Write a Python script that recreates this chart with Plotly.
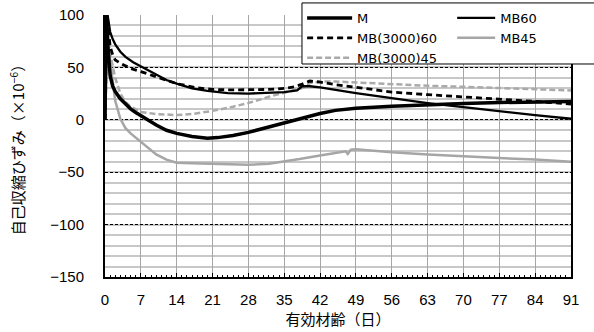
import plotly.graph_objects as go

# Autogenous shrinkage strain (x10^-6) versus effective age (days)
m_days = [0, 0.25, 0.5, 1, 1.5, 2, 3, 4, 5, 6, 7, 8, 10, 12, 14, 17, 20, 22, 25, 28,
          31, 35, 38, 42, 45, 49, 56, 63, 70, 77, 84, 91]
m_vals = [0, 110, 75, 42, 32, 27, 20, 15, 10.5, 7, 4, 1, -5, -10, -13, -16, -17.5, -17, -15, -12,
          -8, -3, 1, 6, 9, 11, 13, 14.5, 15.5, 16.5, 17, 17.5]

mb60_days = [0, 0.25, 0.5, 1, 1.5, 2, 3, 4, 5.5, 7, 8.8, 10, 12, 14, 17, 20, 24, 28, 32, 35,
             37.5, 38.5, 40, 42, 49, 56, 63, 70, 77, 84, 91]
mb60_vals = [0, 115, 100, 84, 77, 72, 65, 60, 55, 51, 47, 43, 38, 34.5, 30, 27.5, 25.5, 25, 25.5, 26.5,
             28, 32, 32, 31, 25.5, 20.5, 16, 12, 8, 4.5, 1]

mb3000_60_days = [0, 0.3, 0.6, 1, 1.5, 2, 3, 5, 7, 10, 14, 18, 21, 25, 28, 32, 35, 37, 38.5, 40,
                  42, 45, 49, 56, 63, 70, 77, 84, 91]
mb3000_60_vals = [0, 110, 90, 70, 62, 57, 54, 49, 46, 41, 34.5, 30.5, 29, 28.5, 28.5, 29, 30, 31.5, 34, 37,
                  36, 33.5, 31, 26.5, 24, 22, 20, 17.5, 15]

mb45_days = [0, 0.3, 0.6, 1, 1.5, 2, 3, 4, 5, 7, 10, 12, 14, 17, 21, 25, 28, 32, 35, 38,
             42, 45, 47, 47.4, 48, 49, 52, 56, 63, 70, 77, 84, 91]
mb45_vals = [0, 55, 72, 55, 35, 18, 1, -8, -13, -21, -33, -38, -41, -41.5, -42, -42.5, -43, -42, -40, -37.5,
             -34, -31.5, -30, -32.5, -28.5, -28, -29.5, -31, -33, -35, -36.5, -38, -40]

mb3000_45_days = [0, 0.3, 0.6, 1, 1.5, 2, 3, 4, 5, 7, 10, 14, 17, 21, 25, 28, 32, 35, 37.5, 39,
                  40, 42, 45, 49, 56, 63, 70, 77, 84, 91]
mb3000_45_vals = [0, 50, 80, 63, 50, 40, 25, 17, 12.5, 7.5, 5.5, 4.5, 5.5, 8.5, 12.5, 16, 22, 26, 29, 31,
                  35, 36.5, 36.5, 35.5, 34, 32.5, 31.5, 30.5, 29.5, 28]

x_ticks = list(range(0, 92, 7))
y_ticks = [-150, -100, -50, 0, 50, 100]

fig = go.Figure()

fig.add_trace(go.Scatter(x=mb3000_45_days, y=mb3000_45_vals, name="MB(3000)45", mode="lines",
                         line=dict(color="#aaaaaa", width=2.5, dash="6px,3px"), legend="legend"))
fig.add_trace(go.Scatter(x=mb45_days, y=mb45_vals, name="MB45", mode="lines",
                         line=dict(color="#a6a6a6", width=2.5), legend="legend2"))
fig.add_trace(go.Scatter(x=mb3000_60_days, y=mb3000_60_vals, name="MB(3000)60", mode="lines",
                         line=dict(color="black", width=2.8, dash="6px,4px"), legend="legend"))
fig.add_trace(go.Scatter(x=mb60_days, y=mb60_vals, name="MB60", mode="lines",
                         line=dict(color="black", width=2.3), legend="legend2"))
fig.add_trace(go.Scatter(x=m_days, y=m_vals, name="M", mode="lines",
                         line=dict(color="black", width=3.5), legend="legend"))

legend_font = dict(family="DejaVu Sans", size=13, color="black")

fig.update_layout(
    width=594, height=332,
    margin=dict(l=105, r=23, t=15, b=55, autoexpand=False),
    plot_bgcolor="white", paper_bgcolor="white",
    font=dict(family="Liberation Sans", size=15, color="black"),
    legend=dict(x=0.423, y=1.046, xanchor="left", yanchor="top", traceorder="reversed",
                bgcolor="rgba(0,0,0,0)", borderwidth=0, font=legend_font,
                itemwidth=45, tracegroupgap=0),
    legend2=dict(x=0.745, y=1.046, xanchor="left", yanchor="top", traceorder="reversed",
                 bgcolor="rgba(0,0,0,0)", borderwidth=0, font=legend_font,
                 itemwidth=38, tracegroupgap=0),
    shapes=[dict(type="rect", xref="paper", yref="paper", x0=0.4227, x1=1.06, y0=0.813, y1=1.046,
                 line=dict(color="black", width=1), fillcolor="white", layer="above")],
    xaxis=dict(range=[0, 91], tickvals=x_ticks, showgrid=True, gridcolor="#a6a6a6", gridwidth=1,
               ticks="inside", ticklen=4, tickcolor="black", tickwidth=1,
               minor=dict(dtick=1, tick0=0, ticks="inside", ticklen=2, tickcolor="black", showgrid=False),
               showline=True, linecolor="black", linewidth=2, zeroline=False,
               ticklabelstandoff=8,
               title=dict(text="有効材齢（日）", standoff=2,
                          font=dict(family="Noto Sans CJK JP", size=15))),
    yaxis=dict(range=[-150, 100], tickvals=y_ticks, showgrid=True, gridcolor="black", gridwidth=1,
               griddash="3px,2px",
               minor=dict(dtick=10, tick0=0, showgrid=True, gridcolor="#c8c8c8", gridwidth=1.5,
                          griddash="solid"),
               showline=True, linecolor="black", linewidth=2, mirror=True, zeroline=False,
               ticks="", ticklabelstandoff=16,
               title=dict(text="自己収縮ひずみ（×10<sup>−6</sup>）", standoff=22,
                          font=dict(family="Noto Sans CJK JP", size=15))),
)

fig.write_html("out.html")
